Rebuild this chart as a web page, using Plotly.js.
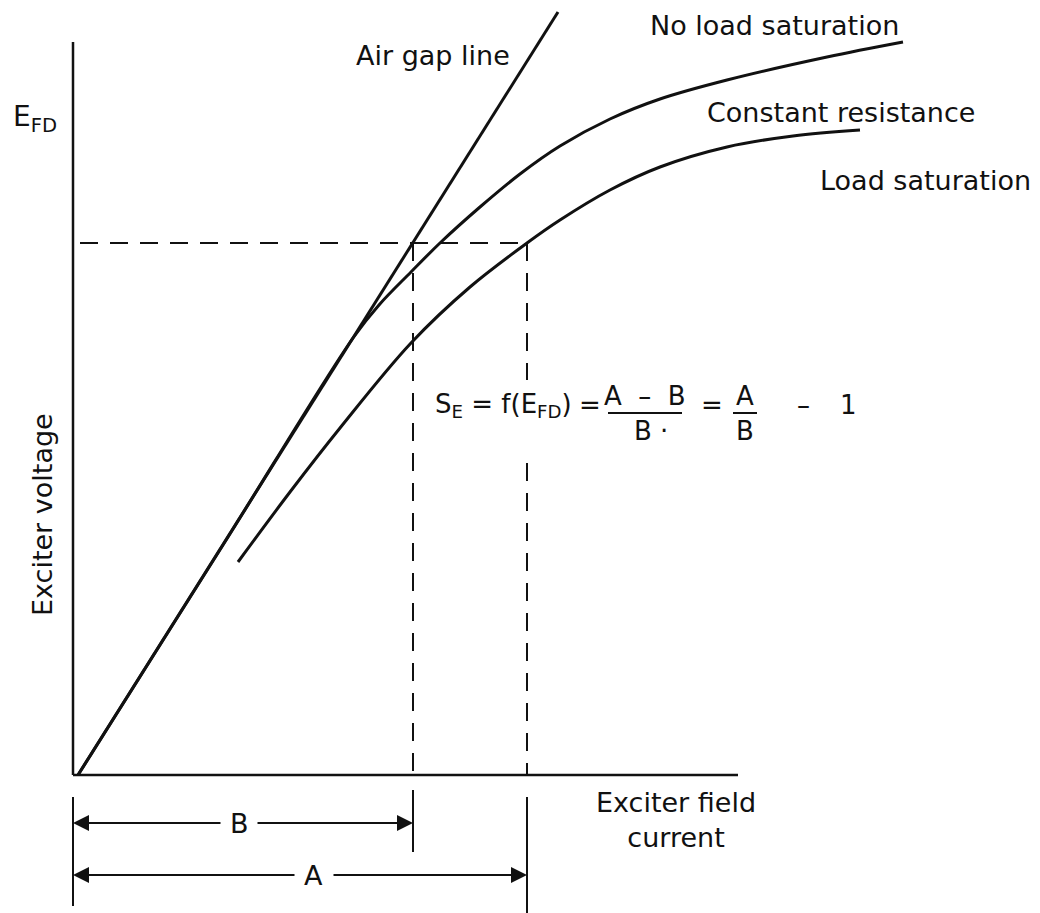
<!DOCTYPE html>
<html><head><meta charset="utf-8">
<script src="https://cdn.plot.ly/plotly-3.0.1.min.js"></script>
<style>html,body{margin:0;padding:0;background:#fff}</style>
</head><body><div id="chart" style="width:1040px;height:913px"></div>
<script>
// Exciter field current (x) vs exciter voltage E_FD (y), arbitrary units
const airGapX = [0.05, 4.85];
const airGapY = [0.00, 7.63];
const noLoadX = [0.05, 1.50, 2.80, 3.06, 3.38, 3.67, 4.07, 4.47, 4.87, 5.37, 5.87, 6.54, 7.54, 8.30];
const noLoadY = [0.00, 2.30, 4.37, 4.70, 5.03, 5.32, 5.68, 6.01, 6.29, 6.56, 6.76, 6.95, 7.18, 7.33];
const loadX = [1.65, 2.17, 2.67, 3.38, 3.97, 4.54, 4.87, 5.37, 5.87, 6.54, 7.20, 7.87];
const loadY = [2.13, 2.83, 3.47, 4.32, 4.88, 5.32, 5.55, 5.85, 6.08, 6.28, 6.39, 6.45];
const efdOperating = 5.32;   // E_FD level of the dashed line
const currentB = 3.40;       // air-gap current at E_FD
const currentA = 4.54;       // load-saturation current at E_FD
const axisXMax = 6.65;
const axisYMax = 7.33;
const dimLevelB = -0.48;
const dimLevelA = -1.00;

const INK = '#111';
const FONT = 'DejaVu Sans';
const line = (x, y, w, dash, shape) => ({
  type: 'scatter', mode: 'lines', x, y, hoverinfo: 'skip',
  line: {color: INK, width: w, dash: dash || 'solid', shape: shape || 'linear', smoothing: 1}
});
const dashPat = '18px,12px';

const traces = [
  line([0, 0], [0, axisYMax], 2.5),
  line([0, axisXMax], [0, 0], 2.5),
  line(airGapX, airGapY, 3),
  line(noLoadX, noLoadY, 3, null, 'spline'),
  line(loadX, loadY, 3, null, 'spline'),
  line([0.07, currentA], [efdOperating, efdOperating], 2, dashPat),
  line([currentB, currentB], [efdOperating, 0], 2, dashPat),
  line([currentA, currentA], [efdOperating, 3.95], 2, dashPat),
  line([currentA, currentA], [3.12, 0], 2, dashPat),
  line([0, 0], [-0.22, -1.31], 2),
  line([currentB, currentB], [-0.15, -0.77], 2),
  line([currentA, currentA], [-0.22, -1.40], 2)
];

const txt = (text, x, y, size, extra) => Object.assign({
  text, x, y, xref: 'x', yref: 'y', showarrow: false,
  font: {family: FONT, size: size, color: INK}
}, extra || {});
const arrow = (xEnd, xStart, y) => ({
  text: '', x: xEnd, y: y, ax: xStart, ay: y, xref: 'x', yref: 'y',
  axref: 'x', ayref: 'y', showarrow: true, arrowhead: 2, arrowsize: 1.6,
  arrowwidth: 2, arrowcolor: INK, standoff: 0, startstandoff: 0
});

const annotations = [
  txt('Air gap line', 4.39, 7.20, 27, {xanchor: 'right'}),
  txt('No load saturation', 5.75, 7.50, 27, {xanchor: 'left'}),
  txt('Constant resistance', 6.32, 6.63, 27, {xanchor: 'left'}),
  txt('Load saturation', 7.45, 5.95, 27, {xanchor: 'left'}),
  txt('Exciter field<br>current', 6.03, -0.45, 27, {align: 'center'}),
  txt('Exciter voltage', -0.31, 2.60, 27, {textangle: -90}),
  txt('E<sub>FD</sub>', -0.38, 6.57, 28),
  // formula
  txt('S<sub>E</sub> = f(E<sub>FD</sub>)', 3.60, 3.70, 26, {xanchor: 'left'}),
  txt('=', 5.17, 3.70, 26),
  txt('A \u00a0–\u00a0 B', 5.72, 3.79, 26),
  txt('B \u00b7', 5.78, 3.44, 26),
  txt('=', 6.39, 3.70, 26),
  txt('A', 6.72, 3.79, 26),
  txt('B', 6.72, 3.44, 26),
  txt('–', 7.30, 3.70, 26),
  txt('1', 7.75, 3.70, 26),
  // dimension labels and arrows
  txt('B', 1.66, dimLevelB, 27),
  txt('A', 2.40, dimLevelA, 27),
  arrow(0, 1.49, dimLevelB),
  arrow(currentB, 1.83, dimLevelB),
  arrow(0, 2.23, dimLevelA),
  arrow(currentA, 2.59, dimLevelA)
];

const shapes = [
  {type: 'line', xref: 'x', yref: 'y', x0: 5.35, x1: 6.09, y0: 3.62, y1: 3.62, line: {color: INK, width: 2}},
  {type: 'line', xref: 'x', yref: 'y', x0: 6.60, x1: 6.84, y0: 3.62, y1: 3.62, line: {color: INK, width: 2}}
];

const layout = {
  width: 1040, height: 913, autosize: false,
  margin: {l: 0, r: 0, t: 0, b: 0},
  paper_bgcolor: '#fff', plot_bgcolor: '#fff',
  showlegend: false,
  xaxis: {range: [-0.73, 9.67], visible: false, fixedrange: true},
  yaxis: {range: [-1.38, 7.75], visible: false, fixedrange: true},
  annotations, shapes
};

Plotly.newPlot('chart', traces, layout, {staticPlot: true, displayModeBar: false});
</script></body></html>
